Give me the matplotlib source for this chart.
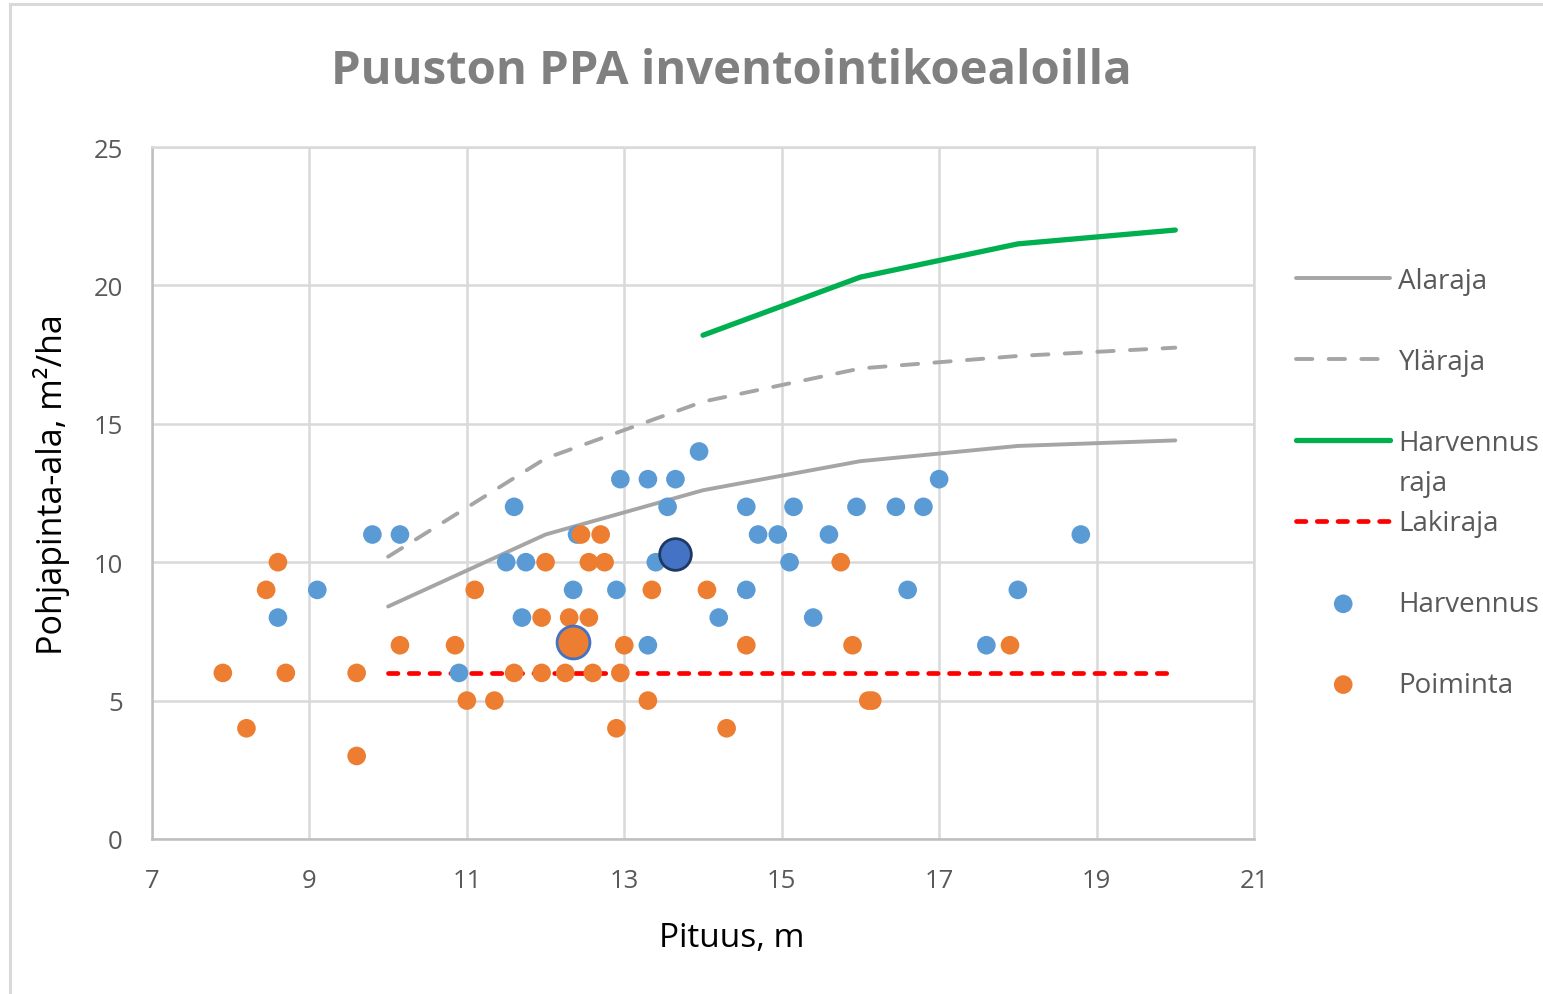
import matplotlib
matplotlib.use("Agg")
import matplotlib.pyplot as plt
from matplotlib.lines import Line2D
from matplotlib.text import Annotation

plt.rcParams['font.family'] = ['Open Sans', 'DejaVu Sans']

# Limit curves
line_x = [10, 12, 14, 16, 18, 20]
alaraja = [8.4, 11.0, 12.6, 13.65, 14.2, 14.4]
ylaraja = [10.2, 13.75, 15.8, 17.0, 17.45, 17.75]
harv_raja_x = [14, 16, 18, 20]
harv_raja = [18.2, 20.3, 21.5, 22.0]
laki_x = [10, 20]
lakiraja = [6, 6]

# Inventory plots, thinning ("Harvennus")
harv_x = [8.6, 9.1, 9.8, 10.15, 10.9, 11.5, 11.6, 11.7, 11.75, 12.35, 12.4, 12.9,
          12.95, 13.3, 13.3, 13.4, 13.55, 13.65, 13.95, 14.2, 14.55, 14.55, 14.7,
          14.95, 15.1, 15.15, 15.4, 15.6, 15.95, 16.45, 16.6, 16.8, 17.0, 17.6,
          18.0, 18.8]
harv_y = [8, 9, 11, 11, 6, 10, 12, 8, 10, 9, 11, 9,
          13, 13, 7, 10, 12, 13, 14, 8, 12, 9, 11,
          11, 10, 12, 8, 11, 12, 12, 9, 12, 13, 7,
          9, 11]

# Inventory plots, selective cutting ("Poiminta")
poim_x = [7.9, 8.2, 8.45, 8.6, 8.7, 9.6, 9.6, 10.15, 10.85, 11.0, 11.1, 11.35,
          11.6, 11.95, 11.95, 12.0, 12.25, 12.3, 12.45, 12.55, 12.55, 12.6, 12.7,
          12.75, 12.9, 12.95, 13.0, 13.3, 13.35, 14.05, 14.3, 14.55, 15.75, 15.9,
          16.1, 16.15, 17.9]
poim_y = [6, 4, 9, 10, 6, 6, 3, 7, 7, 5, 9, 5,
          6, 6, 8, 10, 6, 8, 11, 10, 8, 6, 11,
          10, 4, 6, 7, 5, 9, 9, 4, 7, 10, 7,
          5, 5, 7]

# Highlighted plots
hl_harv = (13.65, 10.3)
hl_poim = (12.35, 7.1)

BLUE = '#5B9BD5'
ORANGE = '#ED7D31'
GRAY = '#A5A5A5'
GREEN = '#00B050'
RED = '#FF0000'
TICK = '#595959'

fig = plt.figure(figsize=(15.43, 9.95), dpi=100)
ax = fig.add_axes([152 / 1543, 1 - 840 / 995, 1102 / 1543, 692 / 995])

ax.plot(line_x, alaraja, color=GRAY, lw=2.8, solid_capstyle='round',
        label='Alaraja', zorder=3)
ax.plot(line_x, ylaraja, color=GRAY, lw=2.8, dashes=(4.2, 4.2),
        dash_capstyle='round', label='Yläraja', zorder=3)
ax.plot(harv_raja_x, harv_raja, color=GREEN, lw=3.8, solid_capstyle='round',
        label='Harvennus', zorder=3)
ax.plot(laki_x, lakiraja, color=RED, lw=3.4, dashes=(2.0, 2.4),
        dash_capstyle='round', label='Lakiraja', zorder=3)

ax.scatter(harv_x, harv_y, s=180, color=BLUE, edgecolors='none',
           label='Harvennus', zorder=4)
ax.scatter(poim_x, poim_y, s=180, color=ORANGE, edgecolors='none',
           label='Poiminta', zorder=5)
ax.scatter([hl_harv[0]], [hl_harv[1]], s=520, color='#4472C4',
           edgecolors='#203864', linewidths=2, zorder=6)
ax.scatter([hl_poim[0]], [hl_poim[1]], s=560, color=ORANGE,
           edgecolors='#4472C4', linewidths=2, zorder=6)

ax.set_xlim(7, 21)
ax.set_ylim(0, 25)
ax.set_xticks(range(7, 22, 2))
ax.set_yticks(range(0, 26, 5))
ax.grid(color='#D9D9D9', lw=1.8)
ax.set_axisbelow(True)
for side in ['top', 'right']:
    ax.spines[side].set_color('#D9D9D9')
    ax.spines[side].set_linewidth(1.8)
for side in ['left', 'bottom']:
    ax.spines[side].set_color('#BFBFBF')
    ax.spines[side].set_linewidth(1.8)
ax.tick_params(length=0, pad=21, labelsize=18.5, labelcolor=TICK)

ax.set_xlabel('Pituus, m', fontsize=24)
ax.set_ylabel('Pohjapinta-ala, m²/ha', fontsize=24.5)
ax.xaxis.set_label_coords((732 - 152) / 1102, -(922 - 840) / 692)
ax.yaxis.set_label_coords((70 - 152) / 1102, (840 - 485) / 692)

fig.text(731 / 1543, 1 - 72 / 995, 'Puuston PPA inventointikoealoilla',
         ha='center', va='center', fontsize=34, fontweight='bold',
         color='#808080')

leg = fig.legend(loc='upper left', bbox_to_anchor=(1296 / 1543, 1 - 268 / 995),
                 frameon=False, fontsize=20, labelcolor=TICK, handlelength=3.4,
                 handletextpad=0.29, labelspacing=1.9, borderpad=0,
                 borderaxespad=0, scatterpoints=1)
# second line of the "Harvennus raja" label, wrapped below like in Excel;
# drawn after the legend so the legend text position is known
raja = Annotation('raja', xy=(0, 0), xycoords=leg.get_texts()[2],
                  xytext=(0, -40), textcoords='offset pixels', ha='left',
                  va='bottom', fontsize=20, color=TICK, annotation_clip=False)
raja.set_zorder(20)
fig.add_artist(raja)

# Chart area border (left and top edges)
fig.add_artist(Line2D([9.5 / 1543, 9.5 / 1543], [0, 1 - 4.5 / 995],
                      transform=fig.transFigure, color='#D9D9D9', lw=2.2))
fig.add_artist(Line2D([9.5 / 1543, 1], [1 - 4.5 / 995, 1 - 4.5 / 995],
                      transform=fig.transFigure, color='#D9D9D9', lw=2.2))

fig.savefig('out.png', dpi=100, facecolor='white')
